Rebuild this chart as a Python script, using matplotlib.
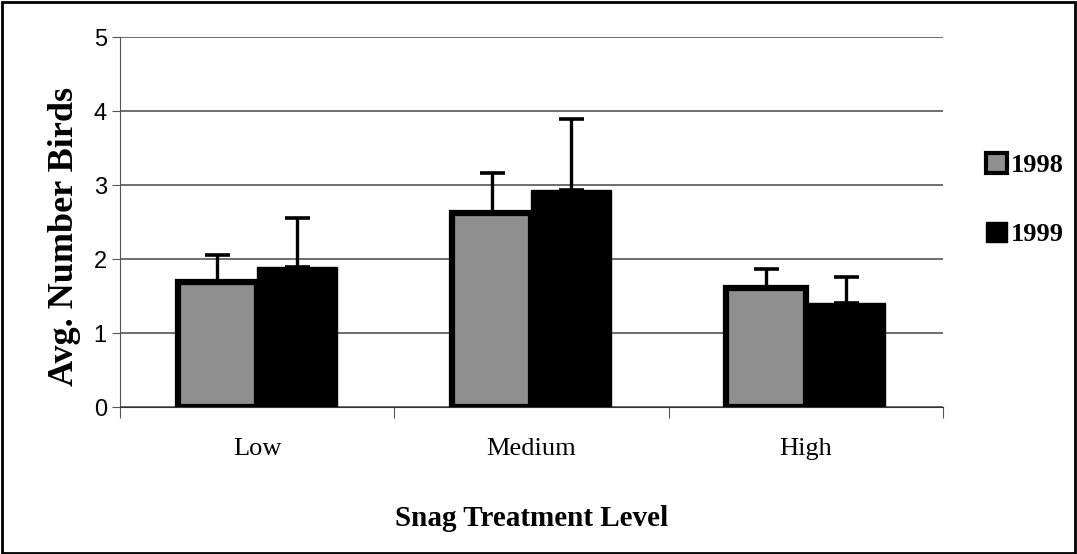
import matplotlib.pyplot as plt
from matplotlib.patches import Patch, Rectangle
import numpy as np

categories = ["Low", "Medium", "High"]
years = ["1998", "1999"]
means_1998 = [1.69, 2.62, 1.61]
means_1999 = [1.89, 2.93, 1.41]
err_1998 = [0.36, 0.54, 0.26]
err_1999 = [0.66, 0.96, 0.35]

fig = plt.figure(figsize=(10.77, 5.54), dpi=100)
ax = fig.add_axes([0.1114, 0.2653, 0.7642, 0.6679])

x = np.arange(len(categories))
w = 0.29
kw = dict(capsize=9, error_kw=dict(elinewidth=2.4, capthick=2.6, ecolor="black"), zorder=3)
ax.bar(x - w / 2, means_1998, w, color="#8f8f8f", edgecolor="black", linewidth=4.5,
       yerr=[np.zeros(3), err_1998], **kw)
ax.bar(x + w / 2, means_1999, w, color="black", edgecolor="black", linewidth=1,
       yerr=[np.zeros(3), err_1999], **kw)

ax.set_xlim(-0.5, 2.5)
ax.set_ylim(0, 5)
ax.set_yticks(range(6))
ax.yaxis.grid(True, color="#555555", linewidth=1.2)
ax.set_axisbelow(True)
for s in ["top", "right"]:
    ax.spines[s].set_visible(False)
ax.spines["left"].set_color("#555555")
ax.spines["bottom"].set_color("#333333")

ax.set_xticks([-0.5, 0.5, 1.5, 2.5])
ax.set_xticklabels([])
ax.set_xticks(x, minor=True)
ax.set_xticklabels(categories, minor=True, fontfamily="Liberation Serif", fontsize=19)
ax.tick_params(axis="x", which="major", length=8, direction="out", color="#555555")
ax.tick_params(axis="x", which="minor", length=0, pad=22)
ax.tick_params(axis="y", length=6, color="#555555", labelsize=17)
for t in ax.get_yticklabels():
    t.set_fontfamily("Liberation Sans")

ax.set_ylabel("Avg. Number Birds", fontfamily="Liberation Serif", fontweight="bold",
              fontsize=26)
ax.yaxis.set_label_coords(-0.047, 0.46)
ax.set_xlabel("Snag Treatment Level", fontfamily="Liberation Serif", fontweight="bold",
              fontsize=21, labelpad=33)

handles = [Patch(facecolor="#8f8f8f", edgecolor="black", linewidth=3),
           Patch(facecolor="black", edgecolor="black")]
fig.legend(handles, years, loc="upper left", bbox_to_anchor=(0.893, 0.767),
           frameon=False, handlelength=0.8, handleheight=0.8, handletextpad=0.15,
           labelspacing=1.7, prop=dict(family="Liberation Serif", weight="bold", size=19))

fig.patches.append(Rectangle((0.002, 0.002), 0.996, 0.995, transform=fig.transFigure,
                             fill=False, edgecolor="black", linewidth=2))

fig.savefig("out.png", dpi=100)
